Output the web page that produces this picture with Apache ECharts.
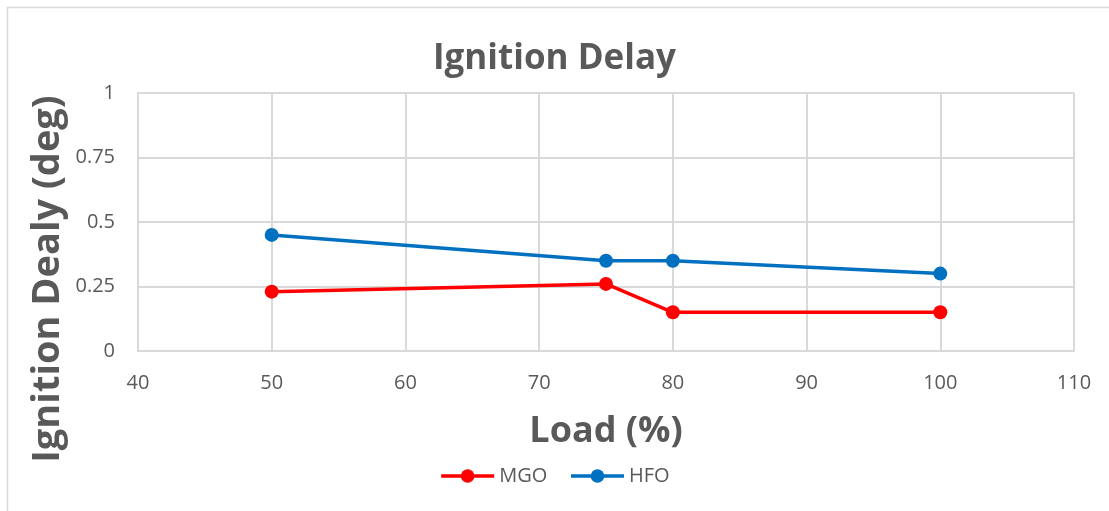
<!DOCTYPE html>
<html>
<head>
<meta charset="utf-8">
<script src="https://cdn.jsdelivr.net/npm/echarts@6/dist/echarts.min.js"></script>
<style>
  html, body { margin: 0; padding: 0; background: #fff; }
  #chart { width: 1109px; height: 511px; }
</style>
</head>
<body>
<div id="chart"></div>
<script>
// Engine load (%) and measured ignition delay (deg) for each fuel
const loads = [50, 75, 80, 100];
const mgoDelay = [0.23, 0.26, 0.15, 0.15];
const hfoDelay = [0.45, 0.35, 0.35, 0.30];
const seriesNames = ['MGO', 'HFO'];

const textGray = '#595959';
const gridGray = '#d9d9d9';
const font = '"Open Sans", "Noto Sans", sans-serif';

const chart = echarts.init(document.getElementById('chart'));
chart.setOption({
  animation: false,
  backgroundColor: '#fff',
  graphic: [
    {
      type: 'rect',
      shape: { x: 7.5, y: 7.5, width: 1130, height: 540 },
      style: { fill: 'none', stroke: '#d9d9d9', lineWidth: 1.5 },
      silent: true
    },
    {
      // vertical axis title, centred on the whole chart area
      type: 'text',
      x: 48,
      y: 279,
      rotation: Math.PI / 2,
      style: {
        text: 'Ignition Dealy (deg)',
        fill: textGray,
        font: 'bold 38px ' + font,
        textAlign: 'center',
        textVerticalAlign: 'middle'
      },
      silent: true
    }
  ],
  title: {
    text: 'Ignition Delay',
    left: 'center',
    top: 37,
    textStyle: { color: textGray, fontFamily: font, fontWeight: 'bold', fontSize: 35 }
  },
  grid: { left: 138, right: 35, top: 93, bottom: 160 },
  legend: {
    bottom: 20,
    left: 'center',
    itemWidth: 53,
    itemHeight: 17,
    itemGap: 22,
    data: seriesNames,
    lineStyle: { width: 3.5 },
    textStyle: { color: textGray, fontFamily: font, fontSize: 20 }
  },
  xAxis: {
    type: 'value',
    min: 40, max: 110, interval: 10,
    name: 'Load (%)',
    nameLocation: 'middle',
    nameGap: 63,
    nameTextStyle: { color: textGray, fontFamily: font, fontWeight: 'bold', fontSize: 36 },
    axisLine: { show: true, lineStyle: { color: gridGray, width: 2 } },
    axisTick: { show: false },
    axisLabel: { color: textGray, fontFamily: font, fontSize: 20, margin: 22 },
    splitLine: { show: true, lineStyle: { color: gridGray, width: 2 } }
  },
  yAxis: {
    type: 'value',
    min: 0, max: 1, interval: 0.25,
    axisLine: { show: true, lineStyle: { color: gridGray, width: 2 } },
    axisTick: { show: false },
    axisLabel: { color: textGray, fontFamily: font, fontSize: 20, margin: 23 },
    splitLine: { show: true, lineStyle: { color: gridGray, width: 2 } }
  },
  series: [
    {
      name: seriesNames[0],
      type: 'line',
      data: loads.map((x, i) => [x, mgoDelay[i]]),
      symbol: 'circle',
      symbolSize: 14,
      color: '#ff0000',
      lineStyle: { width: 3.5, color: '#ff0000' },
      itemStyle: { color: '#ff0000' }
    },
    {
      name: seriesNames[1],
      type: 'line',
      data: loads.map((x, i) => [x, hfoDelay[i]]),
      symbol: 'circle',
      symbolSize: 14,
      color: '#0070c0',
      lineStyle: { width: 3.5, color: '#0070c0' },
      itemStyle: { color: '#0070c0' }
    }
  ]
});
</script>
</body>
</html>
